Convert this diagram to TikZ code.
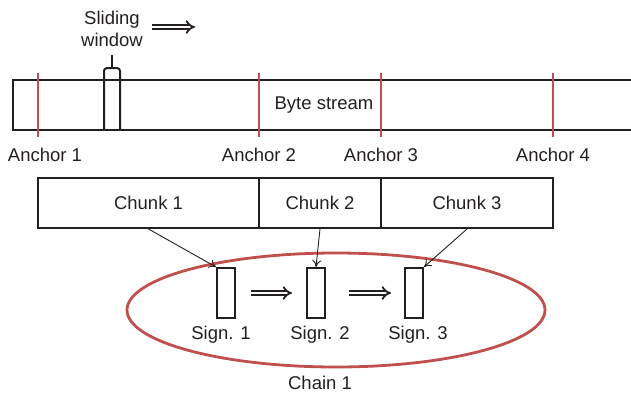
\documentclass[tikz,border=0pt]{standalone}
\usepackage{fontspec}
\setmainfont{Liberation Sans}
\usetikzlibrary{arrows.meta}
\definecolor{anchorred}{RGB}{192,80,77}
\definecolor{inkgray}{RGB}{35,31,32}
\tikzset{
  lbl/.style={text=inkgray, font=\fontsize{18.5}{22}\selectfont},
  box/.style={draw=inkgray, line width=2pt, inner sep=0pt},
  chunk/.style={box, lbl, minimum height=50pt},
  sign/.style={box, minimum width=18pt, minimum height=50pt},
  anchorline/.style={anchorred, line width=2.5pt},
  link/.style={draw=inkgray, line width=0.9pt, -{To[length=7pt, width=9pt]}},
  move/.style={draw=inkgray, double=white, double distance=2.6pt, line width=1.8pt, -{Implies}}
}
\begin{document}
\begin{tikzpicture}[x=1pt, y=-1pt]
  \useasboundingbox (0,0) rectangle (631,397);

  % Byte stream (open on the right)
  \draw[inkgray, line width=2pt] (631,80) -- (13,80) -- (13,130) -- (631,130);
  \node[lbl] (stream) at (324,105) {Byte stream};

  % Anchors
  \foreach \x/\lx/\n in {38/45/1, 259/259/2, 381/381/3, 553/553/4} {
    \draw[anchorline] (\x,73) -- (\x,137);
    \node[lbl] (anchor\n) at (\lx,155) {Anchor \n};
  }

  % Sliding window
  \draw[inkgray, line width=2pt, rounded corners=3pt] (104,130) -- (104,68) -- (120,68) -- (120,130);
  \draw[inkgray, line width=2pt] (112,68) -- (112,55);
  \node[lbl, align=center] (window) at (112,29) {Sliding\\window};
  \coordinate (w1) at (152,27);
  \coordinate (w2) at (195,27);
  \draw[move] (w1) -- (w2);

  % Chunks
  \node[chunk, minimum width=221pt] (chunk1) at (148.5,203) {Chunk 1};
  \node[chunk, minimum width=122pt] (chunk2) at (320,203) {Chunk 2};
  \node[chunk, minimum width=172pt] (chunk3) at (467,203) {Chunk 3};

  % Chain of signatures
  \draw[anchorred, line width=2.8pt] (336,310) ellipse [x radius=209pt, y radius=57pt];
  \node[sign] (sign1) at (226,293) {};
  \node[sign] (sign2) at (316,293) {};
  \node[sign] (sign3) at (414,293) {};
  \node[lbl] (sign1txt) at (221,335) {Sign. 1};
  \node[lbl] (sign2txt) at (320,335) {Sign. 2};
  \node[lbl] (sign3txt) at (418,335) {Sign. 3};
  \node[lbl] (chain) at (320,383) {Chain 1};

  % Links
  \draw[link] (chunk1.south) -- (sign1.north west);
  \draw[link] (chunk2.south) -- (sign2.north);
  \draw[link] (chunk3.south) -- (sign3.north east);
  \draw[move] ([xshift=15pt]sign1.east) -- ([xshift=-14pt]sign2.west);
  \draw[move] ([xshift=23pt]sign2.east) -- ([xshift=-13pt]sign3.west);
\end{tikzpicture}
\end{document}
